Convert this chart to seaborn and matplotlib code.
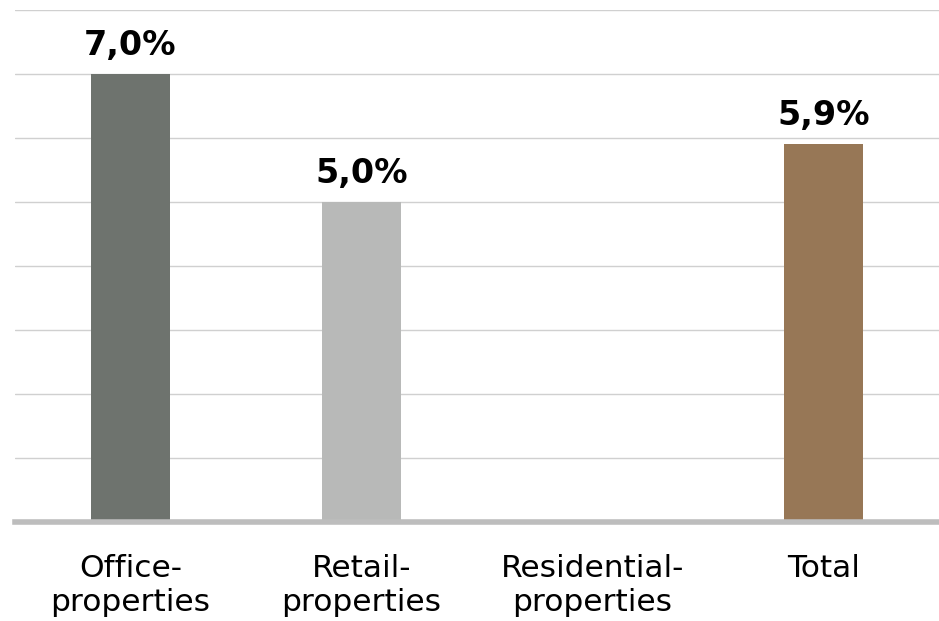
import matplotlib
matplotlib.use("Agg")
import matplotlib.pyplot as plt
import seaborn as sns
import numpy as np
import pandas as pd

categories = ["Office-\nproperties", "Retail-\nproperties", "Residential-\nproperties", "Total"]
values = [7.0, 5.0, np.nan, 5.9]
value_labels = ["7,0%", "5,0%", "", "5,9%"]
colors = ["#6e736e", "#b8b9b8", "#ffffff", "#977756"]

sns.set_theme(style="white")
plt.rcParams['font.family'] = ['DejaVu Sans']

df = pd.DataFrame({"cat": categories, "val": values})

fig = plt.figure(figsize=(9.39, 6.21), dpi=100)
ax = fig.add_axes([15/939, 99/621, 1 - 15/939, (522-10)/621])

sns.barplot(data=df, x="cat", y="val", hue="cat", palette=colors, order=categories,
            width=0.345, legend=False, ax=ax, saturation=1, linewidth=0)

ax.set_ylim(0, 8)
ax.set_xlim(-0.5, 3.5)
for y in range(1, 9):
    ax.axhline(y, color="#d0d0d0", linewidth=1.0, zorder=0)
ax.set_yticks([])
ax.set_xlabel("")
ax.set_ylabel("")
for s in ["top", "left", "right"]:
    ax.spines[s].set_visible(False)
ax.spines["bottom"].set_color("#bdbdbd")
ax.spines["bottom"].set_linewidth(4)
ax.tick_params(axis="x", length=0, pad=23, labelsize=22.5, labelcolor="#000000")
for t in ax.get_xticklabels():
    t.set_linespacing(1.22)
    t.set_va("top")

for i, (v, lab) in enumerate(zip(values, value_labels)):
    if not np.isnan(v):
        ax.annotate(lab, (i, v), xytext=(0, 9), textcoords="offset points",
                    ha="center", va="bottom", fontsize=24, fontweight="bold", color="#000000")

fig.savefig("out.png", dpi=100)
